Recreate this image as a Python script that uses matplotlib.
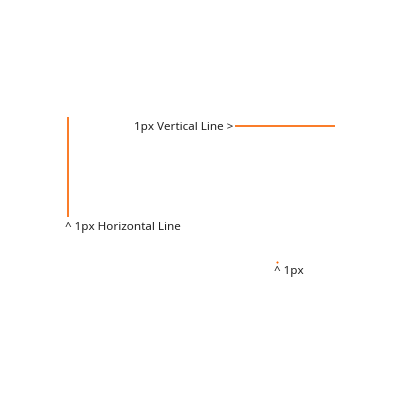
import matplotlib
matplotlib.use("Agg")
import matplotlib.pyplot as plt

# pixel-space data (x, y in a 400x400 canvas, y down)
vline_x = [68, 68]
vline_y = [117, 217]
hline_x = [235, 335]
hline_y = [126, 126]
dot_x = [277]
dot_y = [262]
labels = ["^ 1px Horizontal Line", "1px Vertical Line >", "^ 1px"]
label_x = [65, 233, 274]
label_y = [227.5, 127.5, 271.5]
label_ha = ["left", "right", "left"]

color = "#fa6400"

fig = plt.figure(figsize=(4, 4), dpi=100)
ax = fig.add_axes([0, 0, 1, 1])
ax.set_xlim(0, 400)
ax.set_ylim(400, 0)
ax.axis("off")

ax.plot(vline_x, vline_y, color=color, lw=1.2, solid_capstyle="butt")
ax.plot(hline_x, hline_y, color=color, lw=1.2, solid_capstyle="butt")
ax.plot(dot_x, dot_y, marker="s", ms=0.5, color=color, lw=0)

for t, x, y, ha in zip(labels, label_x, label_y, label_ha):
    ax.text(x, y, t, ha=ha, va="center", fontsize=8.4, color="#222222",
            family=["Noto Sans", "DejaVu Sans"])

fig.savefig("out.png", dpi=100)
